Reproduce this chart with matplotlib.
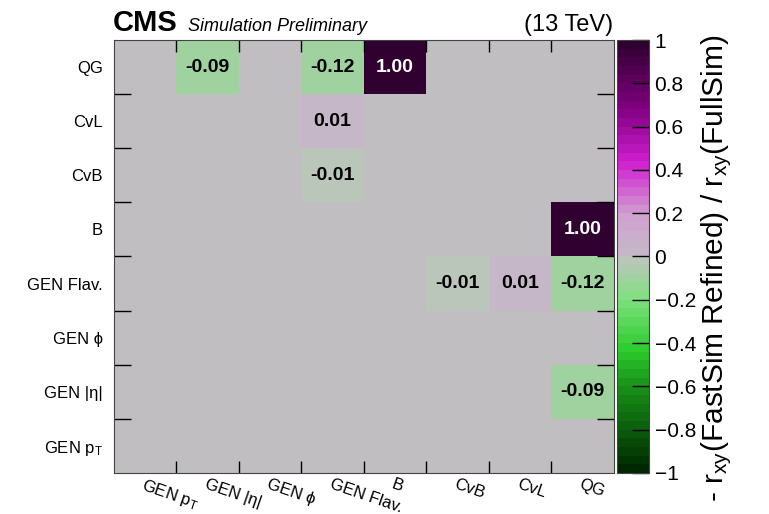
import matplotlib
matplotlib.use("Agg")
import matplotlib.pyplot as plt
import numpy as np
from matplotlib.colors import LinearSegmentedColormap

plt.rcParams["font.family"] = ["Liberation Sans", "DejaVu Sans"]
plt.rcParams["mathtext.default"] = "regular"

# axis categories (same order on both axes, bottom-to-top / left-to-right)
x_labels = ["GEN $p_{T}$", "GEN |η|", "GEN ϕ", "GEN Flav.", "B", "CvB", "CvL", "QG"]
y_labels = ["GEN $p_{T}$", "GEN |η|", "GEN ϕ", "GEN Flav.", "B", "CvB", "CvL", "QG"]

# filled cells: (x category, y category, value)
cell_x = ["GEN |η|", "GEN Flav.", "B", "GEN Flav.", "GEN Flav.", "QG", "CvB", "CvL", "QG", "QG"]
cell_y = ["QG", "QG", "QG", "CvL", "CvB", "B", "GEN Flav.", "GEN Flav.", "GEN Flav.", "GEN |η|"]
cell_v = [-0.09, -0.12, 1.00, 0.01, -0.01, 1.00, -0.01, 0.01, -0.12, -0.09]

n = len(x_labels)
z = np.full((n, n), np.nan)
for cx, cy, v in zip(cell_x, cell_y, cell_v):
    z[y_labels.index(cy), x_labels.index(cx)] = v

# green - gray - magenta palette
cmap = LinearSegmentedColormap.from_list(
    "fastsim",
    [(0.0, "#002800"), (0.1, "#0c600c"), (0.2, "#1a941a"), (0.28, "#2ccc2c"),
     (0.4, "#80e080"), (0.49, "#bac6ba"), (0.5, "#c0bfc1"), (0.51, "#c6b7c8"),
     (0.6, "#d0a0d0"), (0.72, "#d020d0"), (0.85, "#800080"), (1.0, "#300030")],
    N=50,
)
bg_gray = "#c0bec1"

fig = plt.figure(figsize=(7.69, 5.14), dpi=100)
ax = fig.add_axes([0.148, 0.080, 0.650, 0.842])
cax = fig.add_axes([0.802, 0.080, 0.042, 0.842])

ax.set_facecolor(bg_gray)
edges = np.arange(n + 1)
mesh = ax.pcolormesh(edges, edges, np.ma.masked_invalid(z), cmap=cmap, vmin=-1, vmax=1)

for i in range(n):
    for j in range(n):
        if not np.isnan(z[i, j]):
            col = "white" if z[i, j] > 0.6 else "black"
            ax.text(j + 0.5, i + 0.5, f"{z[i, j]:.2f}", ha="center", va="center",
                    fontsize=14, fontweight="bold", color=col)

ax.set_xlim(0, n)
ax.set_ylim(0, n)
ax.set_xticks(np.arange(1, n))
ax.set_yticks(np.arange(1, n))
ax.set_xticklabels([])
ax.set_yticklabels([])
ax.set_xticks(np.arange(n) + 0.5, minor=True)
ax.set_yticks(np.arange(n) + 0.5, minor=True)
ax.set_xticklabels(x_labels, minor=True, rotation=-19, ha="left", va="top",
                   rotation_mode="anchor", fontsize=12)
ax.set_yticklabels(y_labels, minor=True, fontsize=12)
ax.tick_params(axis="x", which="major", direction="in", length=8.5, width=1,
               top=True, bottom=True)
ax.tick_params(axis="y", which="major", direction="in", length=12.5, width=1,
               left=True, right=True)
ax.tick_params(axis="x", which="minor", length=0, pad=2.5)
ax.tick_params(axis="y", which="minor", length=0, pad=8)
for s in ax.spines.values():
    s.set_color("#444444")

cb = fig.colorbar(mesh, cax=cax)
cb.set_ticks(np.round(np.arange(-1, 1.01, 0.2), 1))
cb.set_ticklabels(["−1", "−0.8", "−0.6", "−0.4", "−0.2", "0", "0.2", "0.4", "0.6", "0.8", "1"])
cax.tick_params(direction="in", length=12, width=1, labelsize=15, pad=4)
cb.outline.set_edgecolor("#444444")
cax.minorticks_off()
cb.set_label("- r$_{xy}$(FastSim Refined) / r$_{xy}$(FullSim)", fontsize=21.5)
cax.yaxis.set_label_coords(2.55, 0.472)

fig.text(0.147, 0.940, "CMS", fontsize=21, fontweight="bold", ha="left", va="baseline")
fig.text(0.245, 0.940, "Simulation Preliminary", fontsize=13, style="italic",
         ha="left", va="baseline")
fig.text(0.797, 0.940, "(13 TeV)", fontsize=17, ha="right", va="baseline")

fig.savefig("out.png", dpi=100)
